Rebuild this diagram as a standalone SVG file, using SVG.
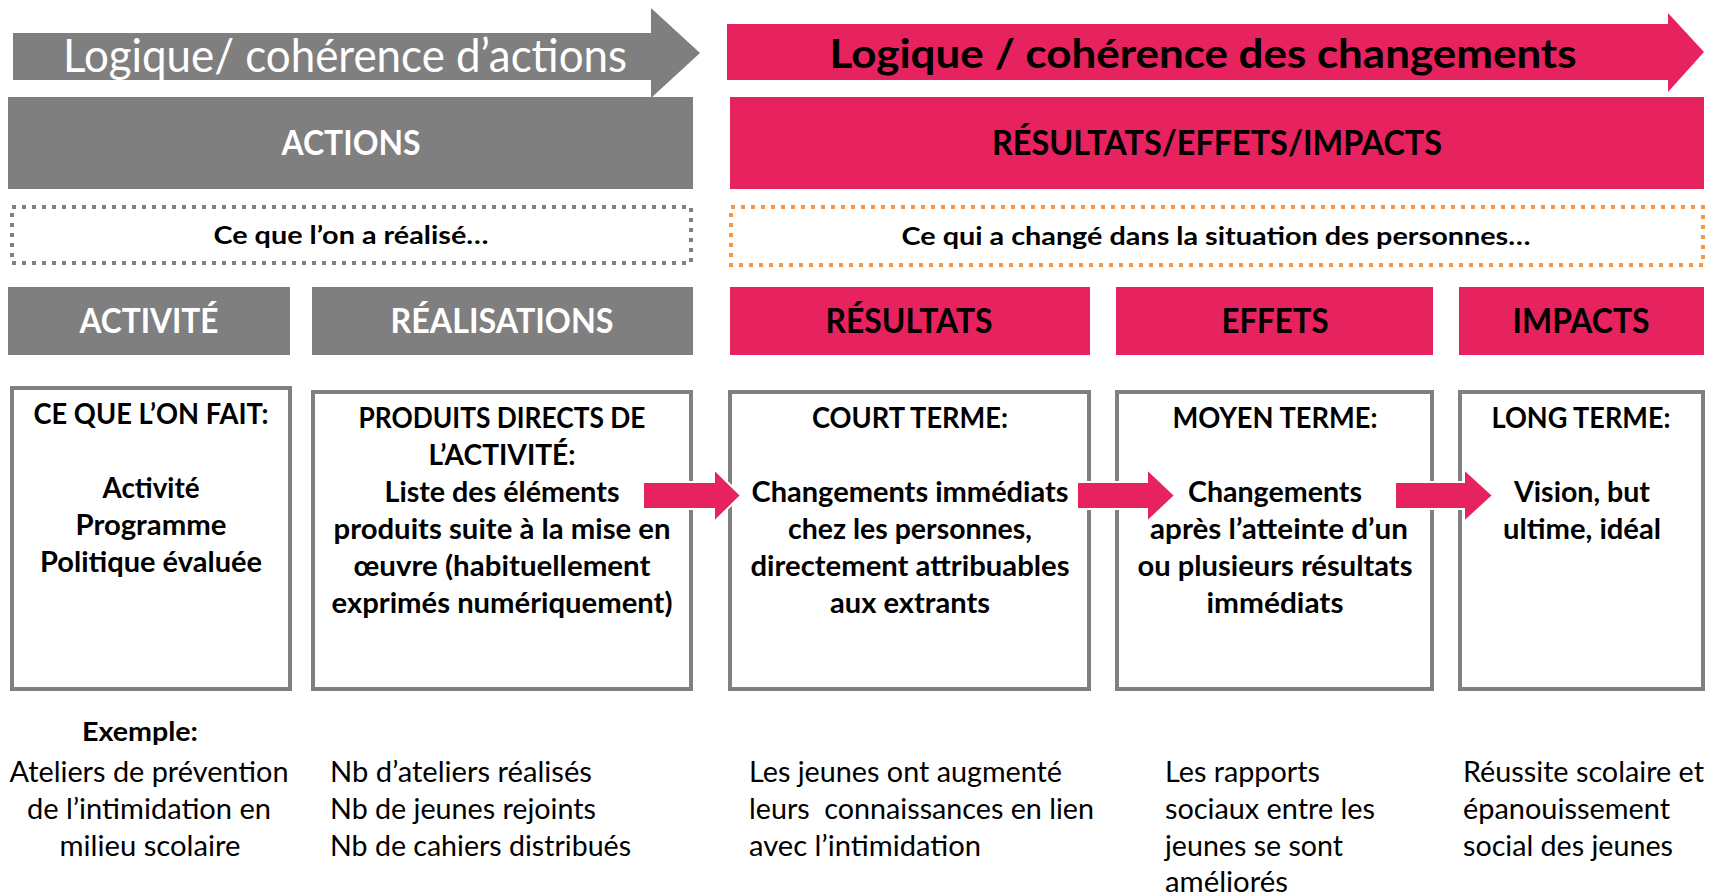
<svg xmlns="http://www.w3.org/2000/svg" width="1709" height="895" viewBox="0 0 1709 895">
<style>
text{font-family:Lato,"Liberation Sans",sans-serif;}
.c{text-anchor:middle;}
.b{font-weight:700;}
.w{fill:#ffffff;}
.k{fill:#000000;}
.gray{fill:#7F7F7F;}
.pink{fill:#E6235F;}
.box{fill:#ffffff;stroke:#808080;stroke-width:4;}
.dg{fill:#ffffff;stroke:#7F7F7F;stroke-width:4;stroke-dasharray:4 6;}
.do{fill:#ffffff;stroke:#F79646;stroke-width:4;stroke-dasharray:4 6;}
.hd{font-size:34px;font-weight:700;}
.bd{font-size:28px;font-weight:700;}
.ex{font-size:28px;}
.fat{fill:#E6235F;stroke:#ffffff;stroke-width:2;}
</style>
<rect width="1709" height="895" fill="#ffffff"/>

<g id="arrow-actions">
<polygon class="gray" points="13,33 651,33 651,8 700,53 651,98 651,80 13,80"/>
<text class="c w" x="345" y="72" font-size="46" textLength="564" lengthAdjust="spacingAndGlyphs">Logique/ cohérence d’actions</text>
</g>
<g id="arrow-changements">
<polygon class="pink" points="727,24 1668,24 1668,13 1704,52 1668,92 1668,80 727,80"/>
<text class="c k b" x="1203" y="68" font-size="40" textLength="747" lengthAdjust="spacingAndGlyphs">Logique / cohérence des changements</text>
</g>

<g id="actions">
<rect class="gray" x="8" y="97" width="685" height="92"/>
<text class="c w hd" x="351" y="155" textLength="139" lengthAdjust="spacingAndGlyphs">ACTIONS</text>
</g>
<g id="resultats-effets-impacts">
<rect class="pink" x="730" y="97" width="974" height="92"/>
<text class="c k hd" x="1217" y="155" textLength="450" lengthAdjust="spacingAndGlyphs">RÉSULTATS/EFFETS/IMPACTS</text>
</g>

<g id="realise">
<rect class="dg" x="12" y="207" width="679" height="56"/>
<text class="c k b" x="351" y="244" font-size="25" textLength="275" lengthAdjust="spacingAndGlyphs">Ce que l’on a réalisé…</text>
</g>
<g id="change">
<rect class="do" x="731" y="207" width="972" height="58"/>
<text class="c k b" x="1216" y="245" font-size="25" textLength="629" lengthAdjust="spacingAndGlyphs">Ce qui a changé dans la situation des personnes…</text>
</g>

<g id="h-activite">
<rect class="gray" x="8" y="287" width="282" height="68"/>
<text class="c w hd" x="149" y="333" textLength="139" lengthAdjust="spacingAndGlyphs">ACTIVITÉ</text>
</g>
<g id="h-realisations">
<rect class="gray" x="312" y="287" width="381" height="68"/>
<text class="c w hd" x="502" y="333" textLength="223" lengthAdjust="spacingAndGlyphs">RÉALISATIONS</text>
</g>
<g id="h-resultats">
<rect class="pink" x="730" y="287" width="360" height="68"/>
<text class="c k hd" x="909" y="333" textLength="167" lengthAdjust="spacingAndGlyphs">RÉSULTATS</text>
</g>
<g id="h-effets">
<rect class="pink" x="1116" y="287" width="317" height="68"/>
<text class="c k hd" x="1275" y="333" textLength="107" lengthAdjust="spacingAndGlyphs">EFFETS</text>
</g>
<g id="h-impacts">
<rect class="pink" x="1459" y="287" width="245" height="68"/>
<text class="c k hd" x="1581" y="333" textLength="137" lengthAdjust="spacingAndGlyphs">IMPACTS</text>
</g>

<g id="box-activite">
<rect class="box" x="12" y="388" width="278" height="301"/>
<text class="c k bd" x="151" y="424" textLength="235" lengthAdjust="spacingAndGlyphs">CE QUE L’ON FAIT:</text>
<text class="c k bd" x="151" y="498" textLength="97" lengthAdjust="spacingAndGlyphs">Activité</text>
<text class="c k bd" x="151" y="535" textLength="151" lengthAdjust="spacingAndGlyphs">Programme</text>
<text class="c k bd" x="151" y="572" textLength="222" lengthAdjust="spacingAndGlyphs">Politique évaluée</text>
</g>
<g id="box-realisations">
<rect class="box" x="313" y="392" width="378" height="297"/>
<text class="c k bd" x="502" y="428" textLength="287" lengthAdjust="spacingAndGlyphs">PRODUITS DIRECTS DE</text>
<text class="c k bd" x="502" y="465" textLength="147" lengthAdjust="spacingAndGlyphs">L’ACTIVITÉ:</text>
<text class="c k bd" x="502" y="502" textLength="235" lengthAdjust="spacingAndGlyphs">Liste des éléments</text>
<text class="c k bd" x="502" y="539" textLength="337" lengthAdjust="spacingAndGlyphs">produits suite à la mise en</text>
<text class="c k bd" x="502" y="576" textLength="297" lengthAdjust="spacingAndGlyphs">œuvre (habituellement</text>
<text class="c k bd" x="502" y="613" textLength="341" lengthAdjust="spacingAndGlyphs">exprimés numériquement)</text>
</g>
<g id="box-court-terme">
<rect class="box" x="730" y="392" width="359" height="297"/>
<text class="c k bd" x="910" y="428" textLength="196" lengthAdjust="spacingAndGlyphs">COURT TERME:</text>
<text class="c k bd" x="910" y="502" textLength="317" lengthAdjust="spacingAndGlyphs">Changements immédiats</text>
<text class="c k bd" x="910" y="539" textLength="244" lengthAdjust="spacingAndGlyphs">chez les personnes,</text>
<text class="c k bd" x="910" y="576" textLength="319" lengthAdjust="spacingAndGlyphs">directement attribuables</text>
<text class="c k bd" x="910" y="613" textLength="160" lengthAdjust="spacingAndGlyphs">aux extrants</text>
</g>
<g id="box-moyen-terme">
<rect class="box" x="1117" y="392" width="315" height="297"/>
<text class="c k bd" x="1275" y="428" textLength="205" lengthAdjust="spacingAndGlyphs">MOYEN TERME:</text>
<text class="c k bd" x="1275" y="502" textLength="174" lengthAdjust="spacingAndGlyphs">Changements</text>
<text class="c k bd" x="1279" y="539" textLength="258" lengthAdjust="spacingAndGlyphs">après l’atteinte d’un</text>
<text class="c k bd" x="1275" y="576" textLength="275" lengthAdjust="spacingAndGlyphs">ou plusieurs résultats</text>
<text class="c k bd" x="1275" y="613" textLength="137" lengthAdjust="spacingAndGlyphs">immédiats</text>
</g>
<g id="box-long-terme">
<rect class="box" x="1460" y="392" width="243" height="297"/>
<text class="c k bd" x="1581" y="428" textLength="179" lengthAdjust="spacingAndGlyphs">LONG TERME:</text>
<text class="c k bd" x="1582" y="502" textLength="136" lengthAdjust="spacingAndGlyphs">Vision, but</text>
<text class="c k bd" x="1582" y="539" textLength="158" lengthAdjust="spacingAndGlyphs">ultime, idéal</text>
</g>

<g id="connectors">
<polygon class="fat" points="643,482 714,482 714,469 741,495.5 714,522 714,509 643,509"/>
<polygon class="fat" points="1077,482 1147,482 1147,469 1175,495.5 1147,522 1147,509 1077,509"/>
<polygon class="fat" points="1395,482 1464,482 1464,469 1493,495.5 1464,522 1464,509 1395,509"/>
</g>

<g id="exemples">
<text class="c k b" x="140" y="741" font-size="27" textLength="116" lengthAdjust="spacingAndGlyphs">Exemple:</text>
<text class="c k ex" x="149" y="782" textLength="279" lengthAdjust="spacingAndGlyphs">Ateliers de prévention</text>
<text class="c k ex" x="149" y="819" textLength="244" lengthAdjust="spacingAndGlyphs">de l’intimidation en</text>
<text class="c k ex" x="150" y="856" textLength="181" lengthAdjust="spacingAndGlyphs">milieu scolaire</text>

<text class="k ex" x="330" y="782" textLength="262" lengthAdjust="spacingAndGlyphs">Nb d’ateliers réalisés</text>
<text class="k ex" x="330" y="819" textLength="266" lengthAdjust="spacingAndGlyphs">Nb de jeunes rejoints</text>
<text class="k ex" x="330" y="856" textLength="301" lengthAdjust="spacingAndGlyphs">Nb de cahiers distribués</text>

<text class="k ex" x="749" y="782" textLength="313" lengthAdjust="spacingAndGlyphs">Les jeunes ont augmenté</text>
<text class="k ex" x="749" y="819" textLength="345" lengthAdjust="spacingAndGlyphs" xml:space="preserve">leurs  connaissances en lien</text>
<text class="k ex" x="749" y="856" textLength="232" lengthAdjust="spacingAndGlyphs">avec l’intimidation</text>

<text class="k ex" x="1165" y="782" textLength="155" lengthAdjust="spacingAndGlyphs">Les rapports</text>
<text class="k ex" x="1165" y="819" textLength="210" lengthAdjust="spacingAndGlyphs">sociaux entre les</text>
<text class="k ex" x="1165" y="856" textLength="178" lengthAdjust="spacingAndGlyphs">jeunes se sont</text>
<text class="k ex" x="1165" y="892" textLength="123" lengthAdjust="spacingAndGlyphs">améliorés</text>

<text class="k ex" x="1463" y="782" textLength="241" lengthAdjust="spacingAndGlyphs">Réussite scolaire et</text>
<text class="k ex" x="1463" y="819" textLength="207" lengthAdjust="spacingAndGlyphs">épanouissement</text>
<text class="k ex" x="1463" y="856" textLength="210" lengthAdjust="spacingAndGlyphs">social des jeunes</text>
</g>
</svg>
